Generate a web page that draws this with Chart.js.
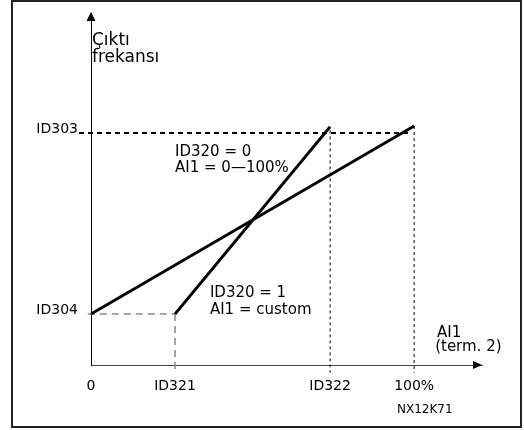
<!DOCTYPE html>
<html>
<head>
<meta charset="utf-8">
<script src="https://cdn.jsdelivr.net/npm/chart.js@4/dist/chart.umd.min.js"></script>
<style>
html,body{margin:0;padding:0;background:#fff;}
canvas{display:block;}
</style>
</head>
<body>
<canvas id="c" width="524" height="430"></canvas>
<script>
// ---- data ----
const xTickValues = [0, 26, 74, 100];
const xTickLabels = ["0", "ID321", "ID322", "100%"];
const yTickValues = [20, 91];
const yTickLabels = ["ID304", "ID303"];

// ID320 = 0 : AI1 0—100%
const lineA_x = [0, 100];
const lineA_y = [20, 93.7];
// ID320 = 1 : AI1 custom
const lineB_x = [26, 74];
const lineB_y = [20, 93.4];

// reference guides
const ref303_x = [-3.7, 98.5];
const ref303_y = [91, 91];
const ref304_x = [-1, 26];
const ref304_y = [20, 20];
const v321_x = [26, 26];
const v321_y = [20, -2.7];
const v322_x = [74, 74];
const v322_y = [92, -3];
const v100_x = [100, 100];
const v100_y = [93.7, -3];

const xMax = 121;
const yMax = 138;

// annotation texts: [text, x, y, size]
const notes = [
  ["Çıktı", 0.3, 125.5, 17],
  ["frekansı", 0.3, 118.8, 17],
  ["ID320 = 0", 26, 82, 15],
  ["AI1 = 0—100%", 26, 75.7, 15],
  ["ID320 = 1", 36.8, 26.7, 15],
  ["AI1 = custom", 36.8, 20, 15],
  ["AI1", 107.1, 11, 15],
  ["(term. 2)", 106.5, 5.5, 15],
  ["NX12K71", 94.7, -18.8, 12]
];

const FONT = "'DejaVu Sans', sans-serif";

function pts(xs, ys) { return xs.map((x, i) => ({x: x, y: ys[i]})); }

function lineDs(xs, ys, color, width, dash) {
  return {
    data: pts(xs, ys),
    borderColor: color,
    borderWidth: width,
    borderDash: dash || [],
    pointRadius: 0,
    fill: false,
    tension: 0,
    clip: false,
    borderCapStyle: 'butt'
  };
}

function noPad(s) {
  s.paddingTop = 0; s.paddingBottom = 0; s.paddingLeft = 0; s.paddingRight = 0;
}

const decor = {
  id: 'decor',
  beforeDraw(chart) {
    const ctx = chart.ctx;
    ctx.save();
    ctx.fillStyle = '#fff';
    ctx.fillRect(0, 0, chart.width, chart.height);
    ctx.restore();
  },
  afterDraw(chart) {
    const ctx = chart.ctx;
    const a = chart.chartArea;
    const xs = chart.scales.x, ys = chart.scales.y;
    ctx.save();
    // frame
    ctx.strokeStyle = '#222';
    ctx.lineWidth = 2;
    ctx.strokeRect(12, 1, 509, 426);
    // y arrow
    ctx.fillStyle = '#000';
    ctx.beginPath();
    ctx.moveTo(a.left, a.top - 1);
    ctx.lineTo(a.left - 4.5, a.top + 8);
    ctx.lineTo(a.left + 4.5, a.top + 8);
    ctx.closePath();
    ctx.fill();
    // x arrow
    ctx.beginPath();
    ctx.moveTo(a.right, a.bottom);
    ctx.lineTo(a.right - 9, a.bottom - 4);
    ctx.lineTo(a.right - 9, a.bottom + 4);
    ctx.closePath();
    ctx.fill();
    // texts
    ctx.textAlign = 'left';
    ctx.textBaseline = 'alphabetic';
    notes.forEach(n => {
      ctx.font = n[3] + 'px ' + FONT;
      ctx.fillText(n[0], xs.getPixelForValue(n[1]), ys.getPixelForValue(n[2]));
    });
    ctx.restore();
  }
};

new Chart(document.getElementById('c'), {
  type: 'line',
  data: {
    datasets: [
      lineDs(lineA_x, lineA_y, '#000', 2.8),
      lineDs(lineB_x, lineB_y, '#000', 2.8),
      lineDs(ref303_x, ref303_y, '#000', 2, [5, 4]),
      lineDs(ref304_x, ref304_y, '#888', 1.5, [7, 5]),
      lineDs(v321_x, v321_y, '#888', 1.5, [7, 5]),
      lineDs(v322_x, v322_y, '#000', 1, [3, 3]),
      lineDs(v100_x, v100_y, '#000', 1, [3, 3])
    ]
  },
  options: {
    responsive: false,
    devicePixelRatio: 1,
    animation: false,
    layout: { padding: { left: 0, top: 13, right: 42, bottom: 0 } },
    plugins: { legend: { display: false }, tooltip: { enabled: false } },
    scales: {
      x: {
        type: 'linear',
        min: 0, max: xMax,
        afterBuildTicks: s => { s.ticks = xTickValues.map(v => ({value: v})); },
        afterFit: s => { s.height = 65; noPad(s); },
        ticks: {
          callback: (v, i) => xTickLabels[i],
          autoSkip: false, maxRotation: 0,
          font: { family: FONT, size: 14 },
          color: '#000',
          padding: 13
        },
        grid: { display: false, drawTicks: false },
        border: { display: true, color: '#444', width: 1 }
      },
      y: {
        type: 'linear',
        min: 0, max: yMax,
        afterBuildTicks: s => { s.ticks = yTickValues.map(v => ({value: v})); },
        afterFit: s => { s.width = 91; noPad(s); },
        ticks: {
          callback: (v, i) => yTickLabels[i],
          autoSkip: false,
          font: { family: FONT, size: 14 },
          color: '#000',
          padding: 13,
          labelOffset: -4
        },
        grid: { display: false, drawTicks: false },
        border: { display: true, color: '#000', width: 1 }
      }
    }
  },
  plugins: [decor]
});
</script>
</body>
</html>
